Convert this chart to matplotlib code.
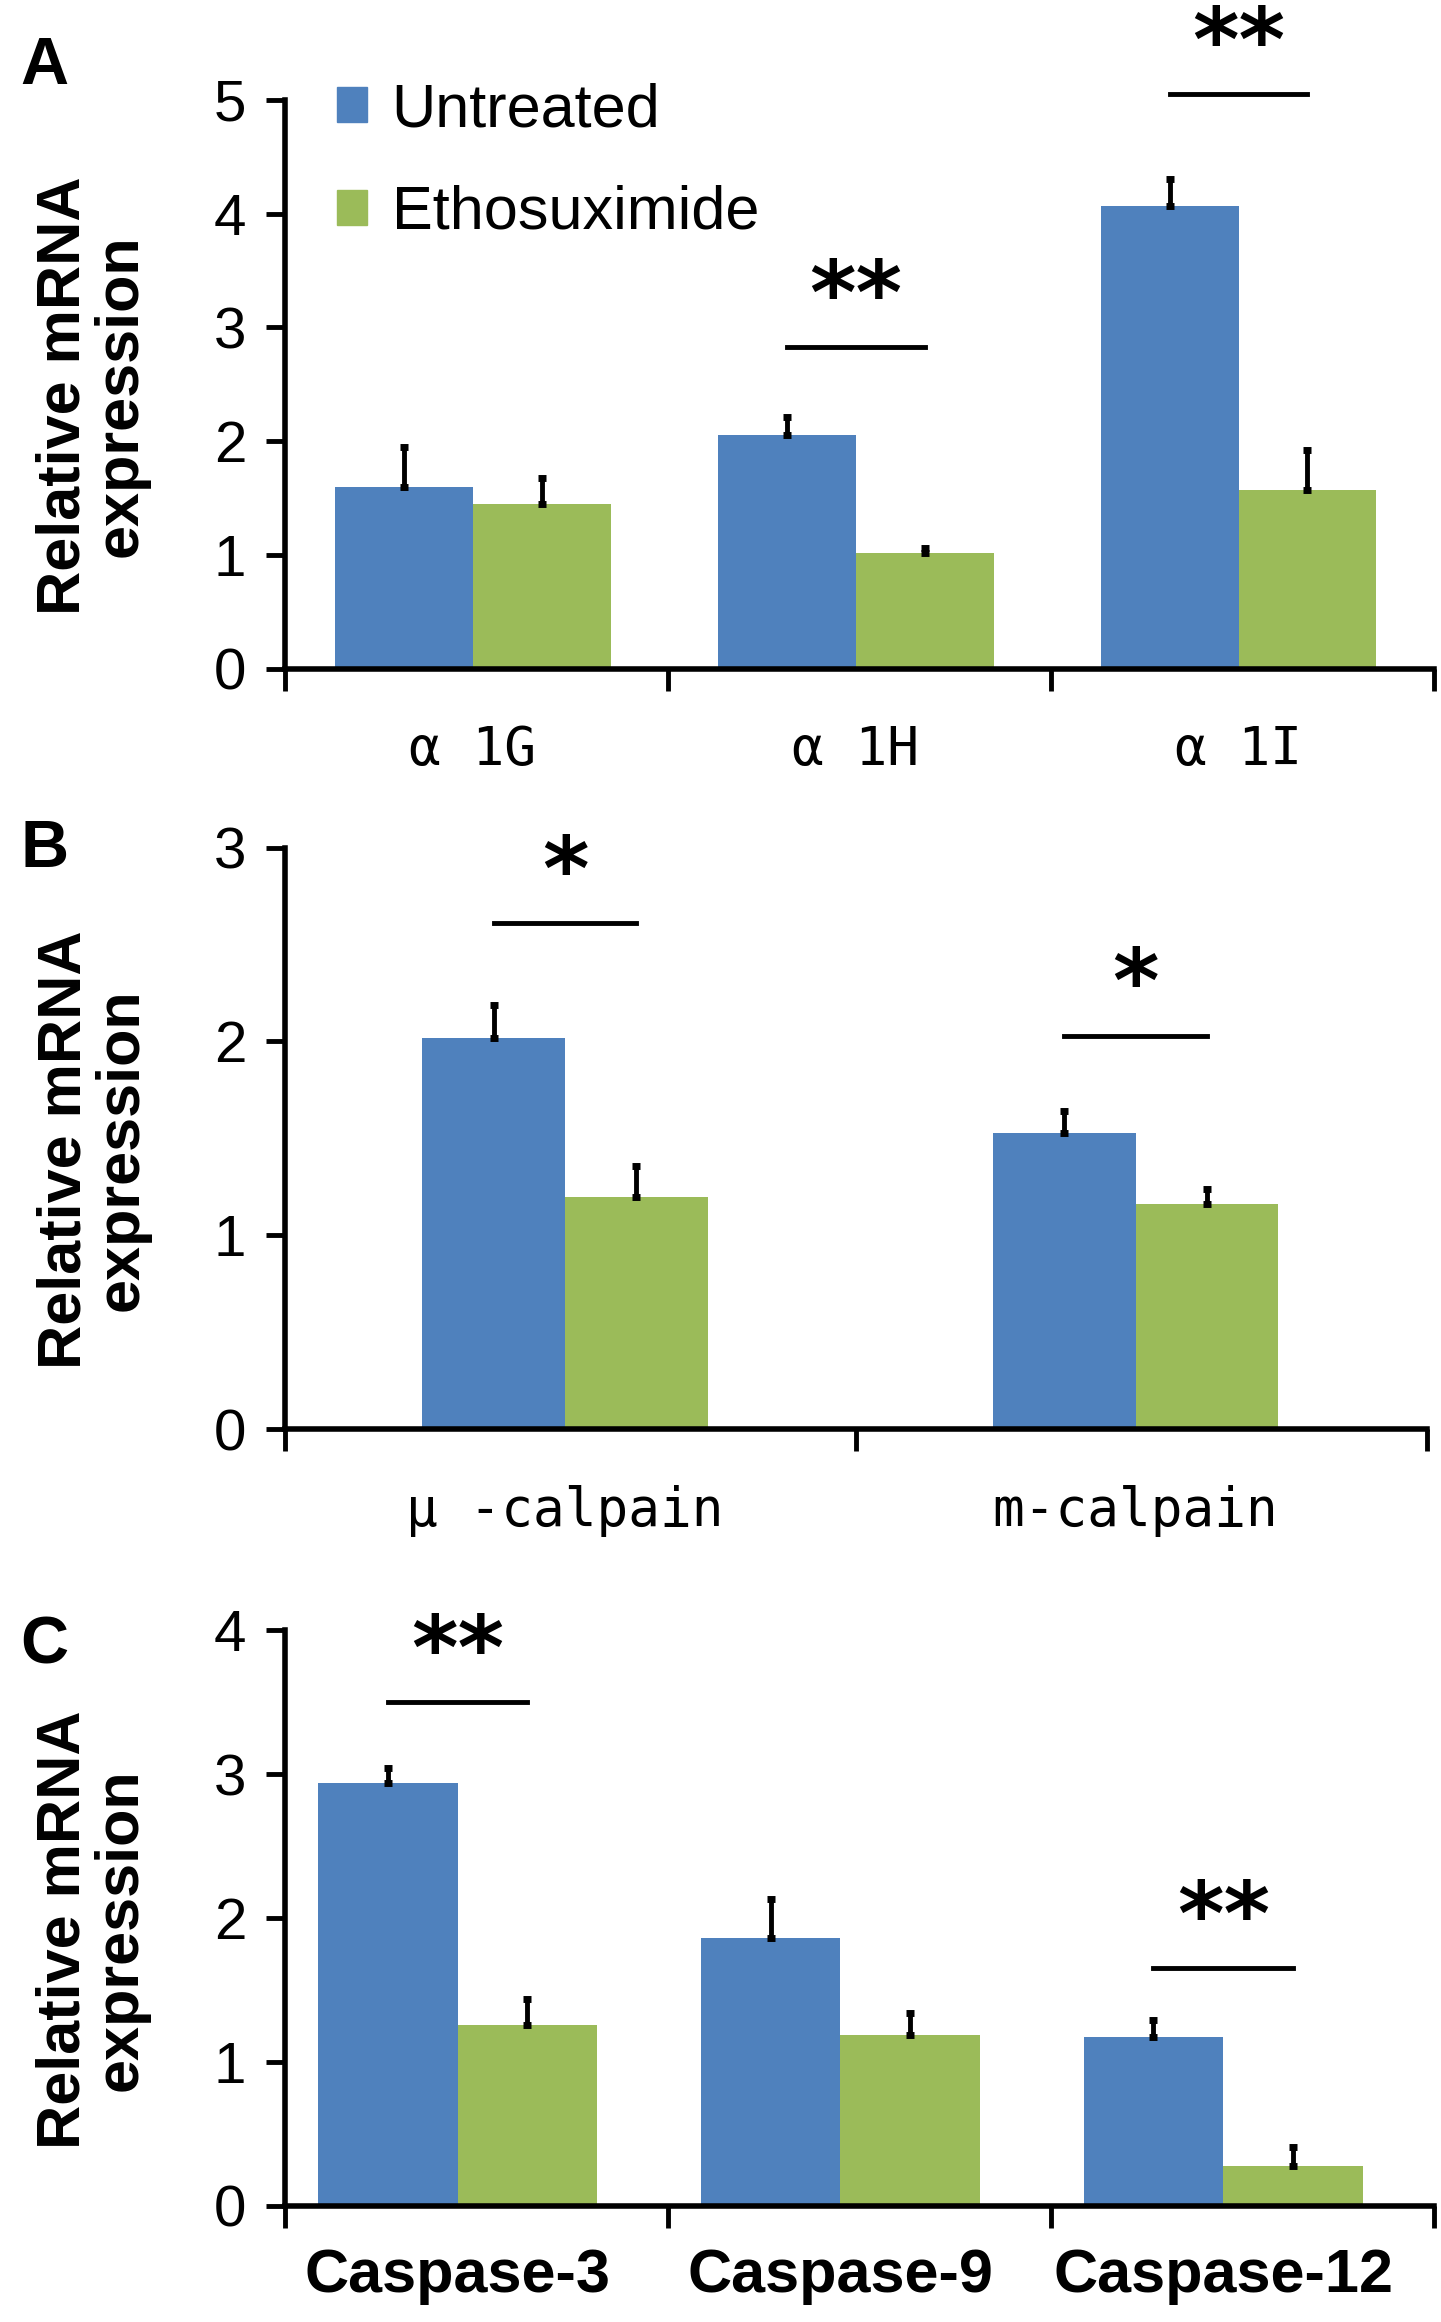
import numpy as np
import matplotlib
matplotlib.use("Agg")
import matplotlib.pyplot as plt
from matplotlib.patches import Patch

# data
groups_a = ["\u03b1 1G", "\u03b1 1H", "\u03b1 1I"]
untr_a = [1.60, 2.05, 4.07]
untr_a_err = [0.35, 0.16, 0.23]
etho_a = [1.45, 1.02, 1.57]
etho_a_err = [0.23, 0.04, 0.35]
sig_a = ["", "**", "**"]
sig_a_y = [0, 2.83, 5.05]

groups_b = ["\u03bc -calpain", "m-calpain"]
untr_b = [2.02, 1.53]
untr_b_err = [0.17, 0.11]
etho_b = [1.20, 1.16]
etho_b_err = [0.16, 0.08]
sig_b = ["*", "*"]
sig_b_y = [2.61, 2.03]

groups_c = ["Caspase-3", "Caspase-9", "Caspase-12"]
untr_c = [2.94, 1.86, 1.17]
untr_c_err = [0.10, 0.27, 0.12]
etho_c = [1.26, 1.19, 0.28]
etho_c_err = [0.18, 0.15, 0.13]
sig_c = ["**", "", "**"]
sig_c_y = [3.50, 0, 1.65]

BLUE = "#4F81BD"
GREEN = "#9BBB59"
SANS = ["Liberation Sans", "DejaVu Sans"]
MONO = ["DejaVu Sans Mono", "Noto Sans CJK JP"]

fig = plt.figure(figsize=(14.41, 23.22), dpi=100)


def panel(rect, cats, u, ue, e, ee, sig, sig_y, ymax, centre, bw, xfont, xweight, xsize):
    ax = fig.add_axes(rect)
    n = len(cats)
    x = np.arange(n) + centre
    ax.bar(x - bw / 2, u, bw, color=BLUE, zorder=2)
    ax.bar(x + bw / 2, e, bw, color=GREEN, zorder=2)
    ax.errorbar(x - bw / 2, u, yerr=[np.zeros(n), ue], fmt="none", ecolor="black",
                elinewidth=3.5, capsize=3, capthick=5, zorder=3)
    ax.errorbar(x + bw / 2, e, yerr=[np.zeros(n), ee], fmt="none", ecolor="black",
                elinewidth=3.5, capsize=3, capthick=5, zorder=3)
    for i in range(n):
        if sig[i]:
            ax.plot([x[i] - bw / 2, x[i] + bw / 2], [sig_y[i], sig_y[i]], color="black",
                    lw=3.5, clip_on=False)
            ax.annotate(sig[i], (x[i], sig_y[i]), xytext=(0, 3), textcoords="offset points",
                        ha="center", va="bottom", fontsize=64, fontweight="bold",
                        annotation_clip=False)
    ax.set_xlim(0, n)
    ax.set_ylim(0, ymax)
    ax.set_yticks(range(ymax + 1))
    ax.set_yticklabels([str(v) for v in range(ymax + 1)], family=SANS, fontsize=42)
    ax.set_xticks(range(n + 1))
    ax.set_xticklabels([])
    ax.set_xticks(x, minor=True)
    ax.set_xticklabels(cats, minor=True, family=xfont, fontweight=xweight, fontsize=xsize)
    ax.tick_params(axis="x", which="major", direction="out", length=16, width=3.5)
    ax.tick_params(axis="x", which="minor", length=0, pad=40)
    ax.tick_params(axis="y", direction="out", length=14, width=3.5, pad=14)
    for s in ["top", "right"]:
        ax.spines[s].set_visible(False)
    for s in ["left", "bottom"]:
        ax.spines[s].set_linewidth(4)
    ax.set_ylabel("Relative mRNA\nexpression", fontsize=44, fontweight="bold",
                  family=SANS, linespacing=1.0)
    ax.yaxis.set_label_coords(-0.118, 0.48)
    return ax


axA = panel([0.198, 0.712, 0.797, 0.245], groups_a, untr_a, untr_a_err, etho_a, etho_a_err,
            sig_a, sig_a_y, 5, 0.49, 0.36, MONO, "normal", 38)
axA.legend(handles=[Patch(color=BLUE, label="Untreated"), Patch(color=GREEN, label="Ethosuximide")],
           loc="upper left", bbox_to_anchor=(0.018, 1.085), frameon=False,
           prop={"family": SANS, "size": 44}, handlelength=0.5, handleheight=0.5,
           handletextpad=0.4, labelspacing=0.75, borderpad=0)

axB = panel([0.198, 0.3845, 0.792, 0.2505], groups_b, untr_b, untr_b_err, etho_b, etho_b_err,
            sig_b, sig_b_y, 3, 0.49, 0.25, MONO, "normal", 38)

axC = panel([0.198, 0.050, 0.797, 0.248], groups_c, untr_c, untr_c_err, etho_c, etho_c_err,
            sig_c, sig_c_y, 4, 0.45, 0.365, SANS, "bold", 44)
axC.tick_params(axis="x", which="minor", pad=30)

for lab, fy in [("A", 0.971), ("B", 0.634), ("C", 0.291)]:
    fig.text(0.031, fy, lab, fontsize=48, fontweight="bold", family=SANS,
             ha="center", va="center")

fig.savefig("out.png", dpi=100)
